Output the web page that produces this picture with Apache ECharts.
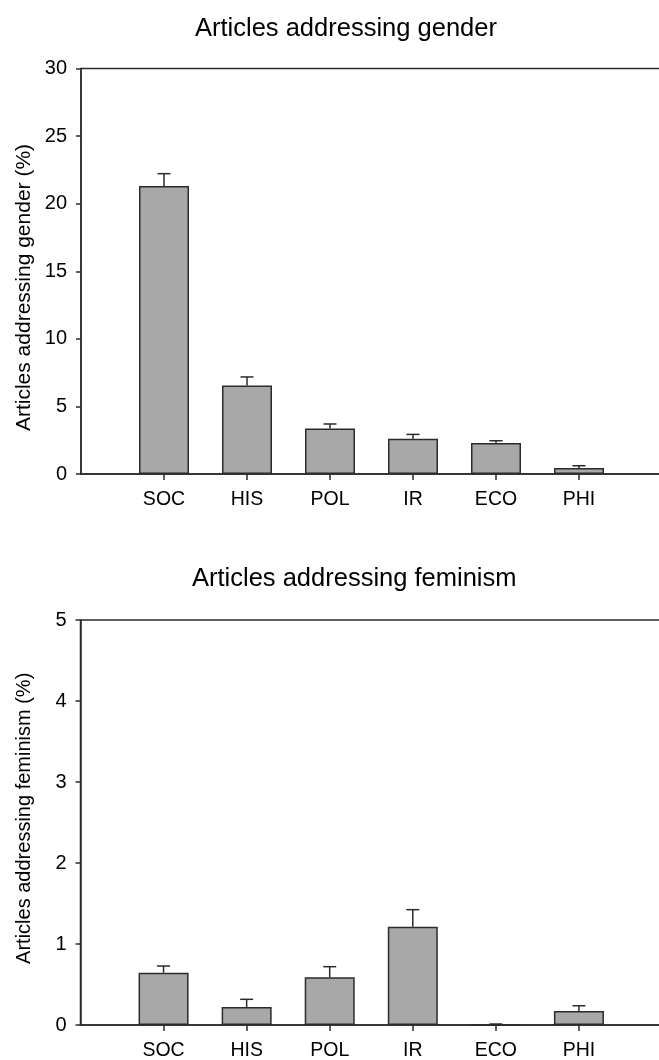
<!DOCTYPE html>
<html>
<head>
<meta charset="utf-8">
<script src="https://cdn.jsdelivr.net/npm/echarts@6/dist/echarts.min.js"></script>
<style>
html,body{margin:0;padding:0;background:#fff;}
#chart{width:659px;height:1060px;}
</style>
</head>
<body>
<div id="chart"></div>
<script>
// ---- data ----
const categories = ['SOC', 'HIS', 'POL', 'IR', 'ECO', 'PHI'];
const genderMean = [21.3, 6.55, 3.37, 2.61, 2.29, 0.44];
const genderErr = [0.92, 0.63, 0.33, 0.32, 0.17, 0.17];
const feminismMean = [0.646, 0.222, 0.589, 1.214, 0, 0.173];
const feminismErr = [0.082, 0.095, 0.131, 0.21, 0.012, 0.065];
const genderTicks = [0, 5, 10, 15, 20, 25, 30];
const feminismTicks = [0, 1, 2, 3, 4, 5];

// padded category list: empty slot at each end so categories sit at 1..6 of 0..7
const paddedCats = [''].concat(categories, ['']);

const FONT = '"Liberation Sans", Arial, sans-serif';
const LINE = '#2b2b2b';
const BAR = '#a8a8a8';

function barData(mean) {
  return mean.map((v, i) => [i + 1, v]);
}
function errData(mean, err) {
  return mean.map((v, i) => [i + 1, v, v + err[i]]);
}
function errRender(params, api) {
  const i = api.value(0);
  const p0 = api.coord([i, api.value(1)]);
  const p1 = api.coord([i, api.value(2)]);
  const half = 6.5;
  return {
    type: 'group',
    children: [
      { type: 'line', shape: { x1: p0[0], y1: p0[1], x2: p1[0], y2: p1[1] },
        style: { stroke: LINE, lineWidth: 1.5 } },
      { type: 'line', shape: { x1: p1[0] - half, y1: p1[1], x2: p1[0] + half, y2: p1[1] },
        style: { stroke: LINE, lineWidth: 1.5 } }
    ]
  };
}

function xAxisCfg(gridIndex) {
  return {
    type: 'category', gridIndex, data: paddedCats, boundaryGap: false,
    axisLine: { show: true, lineStyle: { color: LINE, width: 1.5 } },
    axisTick: { show: true, length: 6, lineStyle: { color: LINE, width: 1.5 },
      interval: (idx) => idx > 0 && idx < paddedCats.length - 1 },
    axisLabel: { show: true, interval: 0, margin: 16, color: '#000', fontSize: 19.5, fontFamily: FONT },
    splitLine: { show: false }
  };
}
function yAxisCfg(gridIndex, ticks) {
  return {
    type: 'value', gridIndex, min: ticks[0], max: ticks[ticks.length - 1],
    interval: ticks[1] - ticks[0],
    axisLine: { show: true, lineStyle: { color: LINE, width: 1.5 } },
    axisTick: { show: true, length: 5, lineStyle: { color: LINE, width: 1.5 } },
    axisLabel: { margin: 14, color: '#000', fontSize: 20, fontFamily: FONT },
    splitLine: { show: false }
  };
}

const chart = echarts.init(document.getElementById('chart'), null, { renderer: 'canvas' });
chart.setOption({
  animation: false,
  backgroundColor: '#fff',
  title: [
    { text: 'Articles addressing gender', left: 195, top: 16, padding: 0,
      textStyle: { fontSize: 25.5, fontWeight: 'normal', color: '#000', fontFamily: FONT, lineHeight: 26 } },
    { text: 'Articles addressing feminism', left: 192, top: 566, padding: 0,
      textStyle: { fontSize: 25.5, fontWeight: 'normal', color: '#000', fontFamily: FONT, lineHeight: 26 } }
  ],
  grid: [
    { left: 81, right: -3, top: 68.5, height: 405.5, outerBoundsMode: 'none', containLabel: false,
      show: true, borderColor: LINE, borderWidth: 1.5, backgroundColor: 'transparent' },
    { left: 80.5, right: -3, top: 620, height: 405, outerBoundsMode: 'none', containLabel: false,
      show: true, borderColor: LINE, borderWidth: 1.5, backgroundColor: 'transparent' }
  ],
  xAxis: [xAxisCfg(0), xAxisCfg(1)],
  yAxis: [yAxisCfg(0, genderTicks), yAxisCfg(1, feminismTicks)],
  graphic: [
    { type: 'text', x: 24, y: 287.5, rotation: Math.PI / 2,
      style: { text: 'Articles addressing gender (%)', fontSize: 21, fontFamily: FONT, fill: '#000', align: 'center', verticalAlign: 'middle' } },
    { type: 'text', x: 24, y: 818.3, rotation: Math.PI / 2,
      style: { text: 'Articles addressing feminism (%)', fontSize: 20, fontFamily: FONT, fill: '#000', align: 'center', verticalAlign: 'middle' } }
  ],
  series: [
    { type: 'bar', xAxisIndex: 0, yAxisIndex: 0, data: barData(genderMean), barWidth: 50,
      itemStyle: { color: BAR, borderColor: LINE, borderWidth: 1.5 } },
    { type: 'custom', xAxisIndex: 0, yAxisIndex: 0, data: errData(genderMean, genderErr),
      renderItem: errRender, z: 3 },
    { type: 'bar', xAxisIndex: 1, yAxisIndex: 1, data: barData(feminismMean), barWidth: 50,
      itemStyle: { color: BAR, borderColor: LINE, borderWidth: 1.5 } },
    { type: 'custom', xAxisIndex: 1, yAxisIndex: 1, data: errData(feminismMean, feminismErr),
      renderItem: errRender, z: 3 }
  ]
});
</script>
</body>
</html>
